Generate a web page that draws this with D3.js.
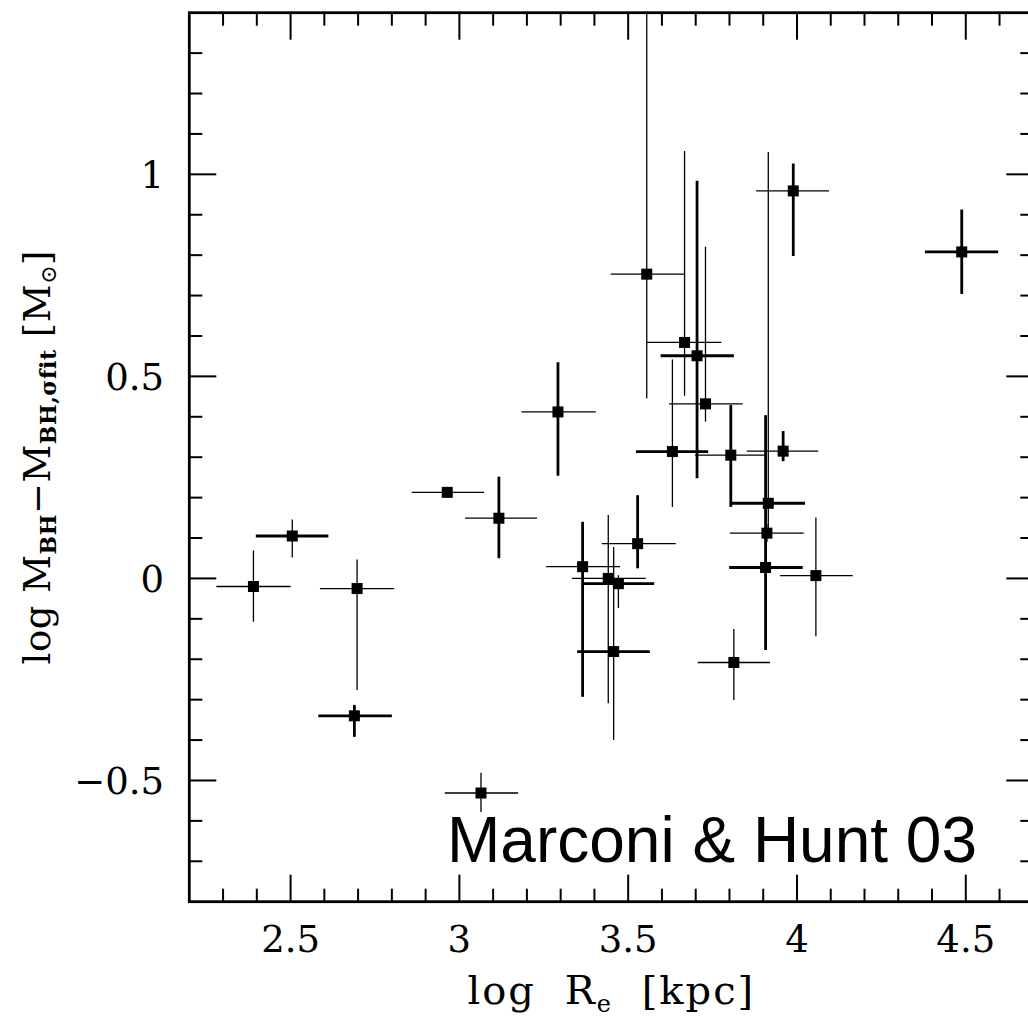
<!DOCTYPE html>
<html>
<meta charset="utf-8">
<style>
body { margin: 0; background: #fff; }
svg { display: block; }
.tick-lbl { font: 37px "DejaVu Serif", serif; fill: #000; }
.axis-title { font: 37px "DejaVu Serif", serif; fill: #000; }
.note { font: 64px "Liberation Sans", Arial, sans-serif; fill: #000; }
</style>
<body>
<script src="https://d3js.org/d3.v7.min.js"></script>
<script>
var names = ["A","B","C","D","E","F","G","H","I","J","K","L","M","O","P","Q","R","S","T","U","V","W","X","Y","Z","AA","BB"];
var logRe = [2.39, 2.505, 2.697, 2.689, 2.964, 3.117, 3.064, 3.292, 3.555, 3.667, 3.704, 3.729, 3.989, 3.631, 3.804, 3.959, 3.915, 3.911, 3.907, 4.056, 3.813, 3.528, 3.365, 3.441, 3.471, 3.457, 4.488];
var dLogM = [-0.02, 0.105, -0.025, -0.34, 0.213, 0.149, -0.531, 0.412, 0.753, 0.584, 0.551, 0.432, 0.959, 0.314, 0.305, 0.315, 0.186, 0.112, 0.027, 0.007, -0.208, 0.086, 0.029, 0.0, -0.013, -0.181, 0.808];
var xLo = [2.28, 2.397, 2.587, 2.582, 2.859, 3.017, 2.957, 3.184, 3.448, 3.555, 3.596, 3.621, 3.879, 3.523, 3.698, 3.851, 3.804, 3.801, 3.799, 3.95, 3.706, 3.422, 3.257, 3.333, 3.367, 3.349, 4.379];
var xHi = [2.50, 2.612, 2.807, 2.80, 3.073, 3.23, 3.174, 3.404, 3.667, 3.776, 3.813, 3.839, 4.095, 3.737, 3.91, 4.063, 4.024, 4.02, 4.017, 4.165, 3.92, 3.641, 3.476, 3.552, 3.577, 3.564, 4.596];
var yLo = [-0.107, 0.052, -0.276, -0.392, 0.205, 0.05, -0.578, 0.254, 0.446, 0.452, 0.248, 0.388, 0.798, 0.177, 0.177, 0.29, 0.10, 0.09, -0.177, -0.143, -0.301, 0.025, -0.293, -0.309, -0.073, -0.40, 0.704];
var yHi = [0.069, 0.146, 0.047, -0.313, 0.221, 0.252, -0.481, 0.535, 1.4, 1.058, 0.984, 0.821, 1.027, 0.542, 0.429, 0.365, 1.055, 0.135, 0.404, 0.151, -0.125, 0.206, 0.14, 0.157, 0.008, 0.078, 0.913];
// error type per bar: "a" = plain, "b" = heavy line in the original
var xErrType = ["a","b","a","b","a","a","a","a","a","a","b","a","a","b","a","a","b","a","b","a","a","a","a","a","b","b","b"];
var yErrType = ["a","a","a","b","a","b","a","b","a","a","b","a","b","a","b","b","a","a","b","a","a","b","b","a","a","a","b"];

var xMajor = [2.5, 3, 3.5, 4, 4.5];
var yMajor = [-0.5, 0, 0.5, 1];
var xLabel = "log R", xLabelSub = "e", xLabelTail = " [kpc]";
var note = "Marconi & Hunt 03";

var W = 1028, H = 1019;
var frame = {left: 189.3, right: 1033.3, top: 12.7, bottom: 901.7};

var x = d3.scaleLinear().domain([2.2, 4.7]).range([frame.left, frame.right]);
var y = d3.scaleLinear().domain([-0.8, 1.4]).range([frame.bottom, frame.top]);

var svg = d3.select("body").append("svg")
    .attr("width", W)
    .attr("height", H);

var data = names.map(function(n, i) {
  return {name: n, x: logRe[i], y: dLogM[i], x0: xLo[i], x1: xHi[i],
          y0: yLo[i], y1: yHi[i], tx: xErrType[i], ty: yErrType[i]};
});

var widthFor = function(t) { return t == "b" ? 2.8 : 1.3; };

// clip marks to the frame
svg.append("clipPath").attr("id", "plotclip")
  .append("rect")
    .attr("x", frame.left).attr("y", frame.top)
    .attr("width", frame.right - frame.left)
    .attr("height", frame.bottom - frame.top);

var plot = svg.append("g").attr("clip-path", "url(#plotclip)");

// x error bars
plot.selectAll(".xerr")
  .data(data)
.enter().append("line")
  .attr("class", "xerr")
  .attr("x1", function(d) { return x(d.x0); })
  .attr("x2", function(d) { return x(d.x1); })
  .attr("y1", function(d) { return y(d.y); })
  .attr("y2", function(d) { return y(d.y); })
  .attr("stroke", "#000")
  .attr("stroke-width", function(d) { return widthFor(d.tx); });

// y error bars
plot.selectAll(".yerr")
  .data(data)
.enter().append("line")
  .attr("class", "yerr")
  .attr("x1", function(d) { return x(d.x); })
  .attr("x2", function(d) { return x(d.x); })
  .attr("y1", function(d) { return y(d.y0); })
  .attr("y2", function(d) { return y(d.y1); })
  .attr("stroke", "#000")
  .attr("stroke-width", function(d) { return widthFor(d.ty); });

// points
var sq = 11;
plot.selectAll(".dot")
  .data(data)
.enter().append("rect")
  .attr("class", "dot")
  .attr("x", function(d) { return x(d.x) - sq / 2; })
  .attr("y", function(d) { return y(d.y) - sq / 2; })
  .attr("width", sq)
  .attr("height", sq)
  .attr("fill", "#000");

// frame
svg.append("rect")
    .attr("x", frame.left).attr("y", frame.top)
    .attr("width", frame.right - frame.left)
    .attr("height", frame.bottom - frame.top)
    .attr("fill", "none")
    .attr("stroke", "#000")
    .attr("stroke-width", 2.8);

// ticks on all four sides, pointing in
var majLen = 27, minLen = 13;
var xMinor = d3.range(23, 47).map(function(k) { return k / 10; });
var yMinor = d3.range(-7, 14).map(function(k) { return k / 10; });
var isMajor = function(v) { return Math.abs(v * 2 - Math.round(v * 2)) < 1e-6; };

var ticks = svg.append("g").attr("stroke", "#000").attr("stroke-width", 2);

ticks.selectAll(".xt-b")
  .data(xMinor)
.enter().append("line")
  .attr("x1", x).attr("x2", x)
  .attr("y1", frame.bottom)
  .attr("y2", function(v) { return frame.bottom - (isMajor(v) ? majLen : minLen); });

ticks.selectAll(".xt-t")
  .data(xMinor)
.enter().append("line")
  .attr("x1", x).attr("x2", x)
  .attr("y1", frame.top)
  .attr("y2", function(v) { return frame.top + (isMajor(v) ? majLen : minLen); });

ticks.selectAll(".yt-l")
  .data(yMinor)
.enter().append("line")
  .attr("y1", y).attr("y2", y)
  .attr("x1", frame.left)
  .attr("x2", function(v) { return frame.left + (isMajor(v) ? majLen : minLen); });

ticks.selectAll(".yt-r")
  .data(yMinor)
.enter().append("line")
  .attr("y1", y).attr("y2", y)
  .attr("x1", frame.right)
  .attr("x2", function(v) { return frame.right - (isMajor(v) ? majLen : minLen); });

// tick labels
var fmt = function(v) { return (v < 0 ? "\u2212" : "") + String(Math.abs(v)); };

svg.selectAll(".xl")
  .data(xMajor)
.enter().append("text")
  .attr("class", "tick-lbl")
  .attr("x", x)
  .attr("y", 952)
  .attr("text-anchor", "middle")
  .text(fmt);

svg.selectAll(".yl")
  .data(yMajor)
.enter().append("text")
  .attr("class", "tick-lbl")
  .attr("x", 164)
  .attr("y", y)
  .attr("dy", "0.36em")
  .attr("text-anchor", "end")
  .text(fmt);

// axis titles
var xt = svg.append("text")
    .attr("class", "axis-title")
    .attr("x", (frame.left + frame.right) / 2)
    .attr("y", 1004)
    .attr("text-anchor", "middle")
    .style("font-size", "40px")
    .style("letter-spacing", "2px")
    .style("word-spacing", "14px");
xt.append("tspan").text(xLabel);
xt.append("tspan").attr("font-size", "24px").attr("dy", 8).text(xLabelSub);
xt.append("tspan").attr("dy", -8).text(xLabelTail);

var yt = svg.append("text")
    .attr("class", "axis-title")
    .attr("transform", "translate(50," + ((frame.top + frame.bottom) / 2) + ") rotate(-90)")
    .attr("text-anchor", "middle")
    .style("letter-spacing", "0.5px");
yt.append("tspan").text("log M");
yt.append("tspan").attr("font-size", "22px").attr("font-weight", "bold").attr("dy", 6).text("BH");
yt.append("tspan").attr("dy", -6).text("\u2212M");
yt.append("tspan").attr("font-size", "22px").attr("font-weight", "bold").attr("dy", 6).text("BH,\u03C3fit");
yt.append("tspan").attr("dy", -6).text("  [M");
yt.append("tspan").attr("font-size", "22px").attr("dy", 6).text("\u2299");
yt.append("tspan").attr("dy", -6).text("]");

// annotation
svg.append("text")
    .attr("class", "note")
    .attr("x", 447)
    .attr("y", 862)
    .text(note);
</script>
</body>
</html>
